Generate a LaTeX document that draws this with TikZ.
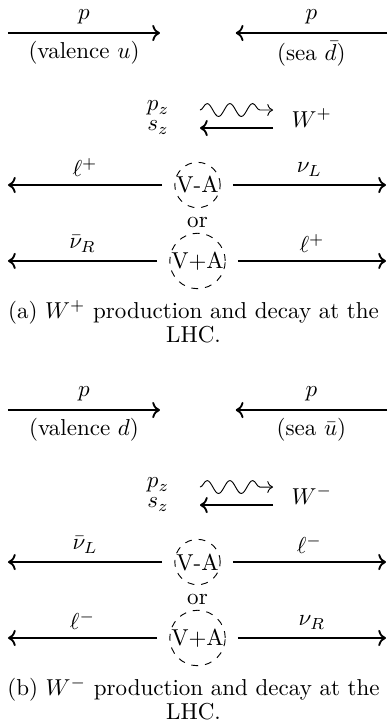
\documentclass[tikz,border=0pt]{standalone}
\usepackage{amsmath,amssymb}
\usetikzlibrary{arrows.meta, positioning, decorations.pathmorphing}

\tikzset{
  fermion/.style={->, thick},
  boson/.style={->, decorate, decoration={snake, amplitude=2.8pt, segment length=9.9pt, post length=2.5pt}},
  vertex/.style={circle, draw, dashed, inner sep=0pt, outer sep=5.5pt},
  spin/.style={inner sep=0pt, anchor=base},
}

\begin{document}
\begin{tikzpicture}
  \useasboundingbox (0,0) rectangle (5.91,-11.086);

  % (a) W+ production
  \begin{scope}
    \coordinate (inLa) at (0.122,-0.504);
    \coordinate (inLha) at (2.443,-0.504);
    \coordinate (inRa) at (5.91,-0.504);
    \coordinate (inRha) at (3.60,-0.504);
    \draw[fermion] (inLa) -- node[above] (pLa) {$p$} node[below] (qLa) {(valence $u$)} (inLha);
    \draw[fermion] (inRa) -- node[above] (pRa) {$p$} node[below] (qRa) {(sea $\bar{d}$)} (inRha);

    \node[spin] (pza) at (2.413,-1.69) {$p_z$};
    \node[spin] (sza) at (2.413,-2.0) {$s_z$};
    \coordinate (wLa) at (3.054,-1.680);
    \coordinate (wRa) at (4.169,-1.680);
    \coordinate (sLa) at (3.054,-1.955);
    \coordinate (sRa) at (4.169,-1.955);
    \draw[boson] (wLa) -- (wRa);
    \draw[fermion] (sRa) -- (sLa);
    \node[right] (Wa) at (4.33,-1.80) {$W^+$};

    \node[vertex] (vmaa) at (3.016,-2.825) {V-A};
    \coordinate (l1a) at (0.122,-2.825);
    \coordinate (r1a) at (5.894,-2.825);
    \draw[fermion] (vmaa) -- node[above] (lt1a) {$\ell^+$} (l1a);
    \draw[fermion] (vmaa) -- node[above] (rt1a) {$\nu_L$} (r1a);
    \node (ora) at (3.016,-3.39) {or};
    \node[vertex] (vpaa) at (3.016,-3.985) {V+A};
    \coordinate (l2a) at (0.122,-3.985);
    \coordinate (r2a) at (5.894,-3.985);
    \draw[fermion] (vpaa) -- node[above] (lt2a) {$\bar{\nu}_R$} (l2a);
    \draw[fermion] (vpaa) -- node[above] (rt2a) {$\ell^+$} (r2a);

    \node[align=center] (capa) at (2.955,-4.917) {(a) $W^+$ production and decay at the\\[-1.6pt]LHC.};
  \end{scope}

  % (b) W- production
  \begin{scope}[yshift=-5.757cm]
    \coordinate (inLb) at (0.122,-0.504);
    \coordinate (inLhb) at (2.443,-0.504);
    \coordinate (inRb) at (5.91,-0.504);
    \coordinate (inRhb) at (3.60,-0.504);
    \draw[fermion] (inLb) -- node[above] (pLb) {$p$} node[below] (qLb) {(valence $d$)} (inLhb);
    \draw[fermion] (inRb) -- node[above] (pRb) {$p$} node[below] (qRb) {(sea $\bar{u}$)} (inRhb);

    \node[spin] (pzb) at (2.413,-1.69) {$p_z$};
    \node[spin] (szb) at (2.413,-2.0) {$s_z$};
    \coordinate (wLb) at (3.054,-1.680);
    \coordinate (wRb) at (4.169,-1.680);
    \coordinate (sLb) at (3.054,-1.955);
    \coordinate (sRb) at (4.169,-1.955);
    \draw[boson] (wLb) -- (wRb);
    \draw[fermion] (sRb) -- (sLb);
    \node[right] (Wb) at (4.33,-1.80) {$W^-$};

    \node[vertex] (vmab) at (3.016,-2.825) {V-A};
    \coordinate (l1b) at (0.122,-2.825);
    \coordinate (r1b) at (5.894,-2.825);
    \draw[fermion] (vmab) -- node[above] (lt1b) {$\bar{\nu}_L$} (l1b);
    \draw[fermion] (vmab) -- node[above] (rt1b) {$\ell^-$} (r1b);
    \node (orb) at (3.016,-3.39) {or};
    \node[vertex] (vpab) at (3.016,-3.985) {V+A};
    \coordinate (l2b) at (0.122,-3.985);
    \coordinate (r2b) at (5.894,-3.985);
    \draw[fermion] (vpab) -- node[above] (lt2b) {$\ell^-$} (l2b);
    \draw[fermion] (vpab) -- node[above] (rt2b) {$\nu_R$} (r2b);

    \node[align=center] (capb) at (2.955,-4.917) {(b) $W^-$ production and decay at the\\[-1.6pt]LHC.};
  \end{scope}
\end{tikzpicture}
\end{document}
